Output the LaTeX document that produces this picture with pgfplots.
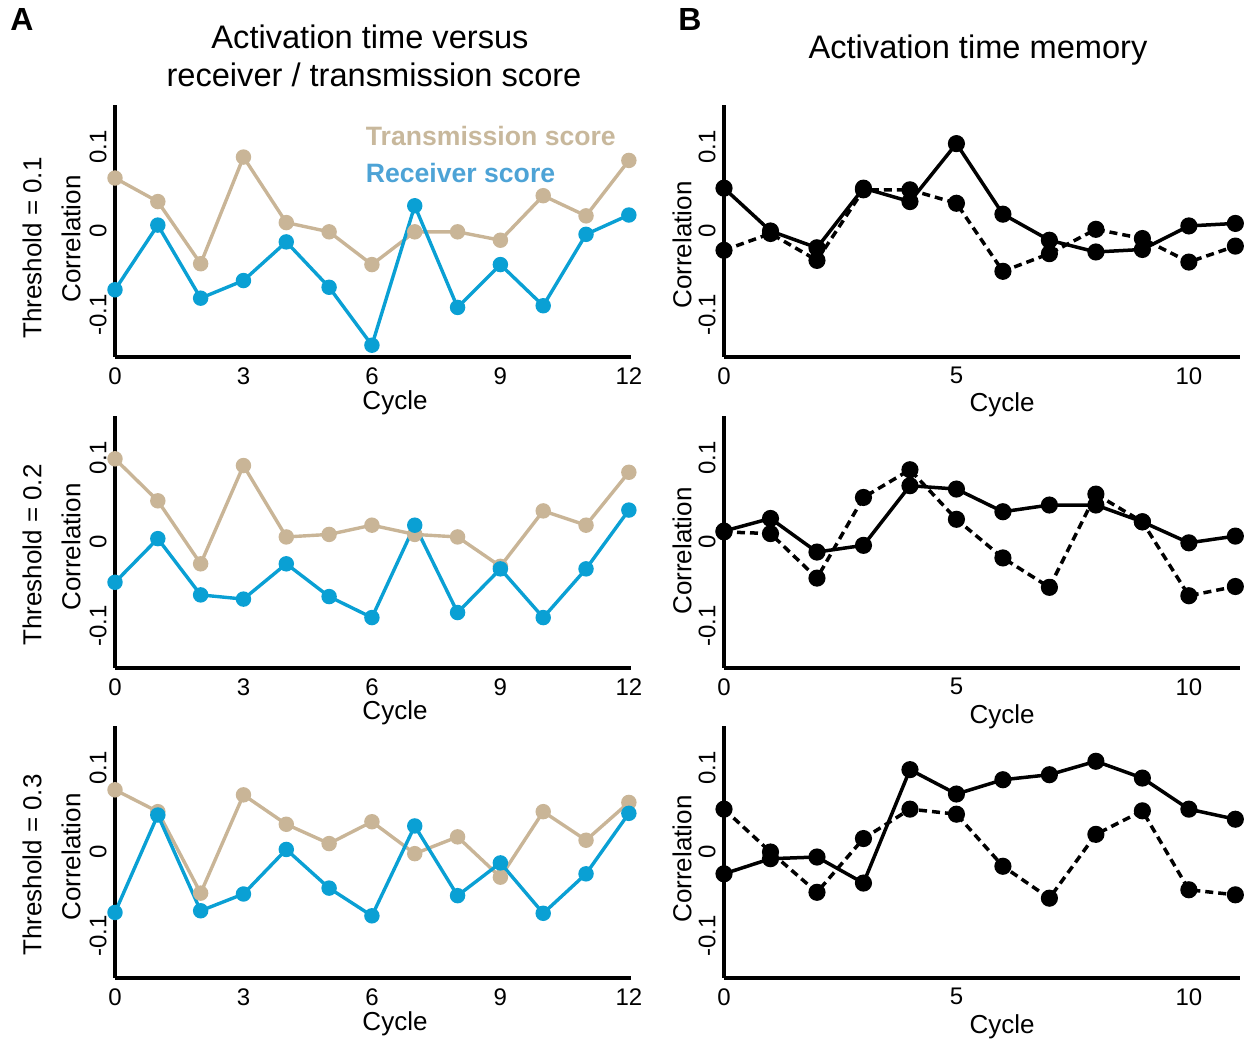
\documentclass[border=0pt]{standalone}
\usepackage{fontspec}
\setmainfont{Liberation Sans}
\usepackage{pgfplots}
\pgfplotsset{compat=1.18}
\definecolor{tanline}{RGB}{201,181,151}
\definecolor{blueline}{RGB}{10,160,212}
\definecolor{tantext}{RGB}{200,184,156}
\definecolor{bluetext}{RGB}{77,163,214}

\pgfplotsset{
  panel/.style={
    scale only axis, width=258pt, height=126pt,
    anchor=south west,
    axis x line=bottom, axis y line=left,
    axis line style={line width=2pt,-},
    ymin=-0.15, ymax=0.15,
    ytick={-0.1,0,0.1}, yticklabels={-0.1,0,0.1},
    major tick length=0pt,
    tick label style={font=\fontsize{12}{14}\selectfont},
    yticklabel style={rotate=90, anchor=south, inner sep=0pt},
    yticklabel shift=4pt,
    xticklabel style={anchor=north, inner sep=0pt},
    xticklabel shift=5pt,
    clip=false,
  },
  panelA/.style={panel, xmin=0, xmax=12.05,
    xtick={0,3,6,9,12}, xticklabels={0,3,6,9,12}},
  panelB/.style={panel, xmin=0, xmax=11.1,
    xtick={0,5,10}, xticklabels={0,5,10}},
  tanplot/.style={tanline, line width=1.7pt, mark=*, mark size=3pt},
  blueplot/.style={blueline, line width=1.7pt, mark=*, mark size=3pt},
  solidplot/.style={black, line width=1.75pt, mark=*, mark size=3.4pt},
  dashplot/.style={black, line width=1.75pt, dash pattern=on 4pt off 2.5pt,
    mark=*, mark size=3.4pt, mark options={solid}},
}

\begin{document}
\begin{tikzpicture}
\useasboundingbox (0,0) rectangle (624.5pt,521pt);

% ---- column A ----
\begin{axis}[panelA, at={(57.5pt,342.5pt)}]
\addplot[tanplot] coordinates {
 (0,0.063) (1,0.035) (2,-0.039) (3,0.088) (4,0.010) (5,-0.001) (6,-0.040)
 (7,-0.001) (8,-0.001) (9,-0.011) (10,0.042) (11,0.018) (12,0.084)};
\addplot[blueplot] coordinates {
 (0,-0.070) (1,0.007) (2,-0.080) (3,-0.059) (4,-0.013) (5,-0.067) (6,-0.136)
 (7,0.030) (8,-0.091) (9,-0.040) (10,-0.089) (11,-0.004) (12,0.019)};
\node[anchor=west, font=\fontsize{13.3}{15}\selectfont\bfseries, text=tantext, inner sep=0pt]
  at (axis cs:5.85,0.113) {Transmission score};
\node[anchor=west, font=\fontsize{13.3}{15}\selectfont\bfseries, text=bluetext, inner sep=0pt]
  at (axis cs:5.85,0.069) {Receiver score};
\end{axis}

\begin{axis}[panelA, at={(57.5pt,187pt)}]
\addplot[tanplot] coordinates {
 (0,0.099) (1,0.049) (2,-0.026) (3,0.091) (4,0.006) (5,0.009) (6,0.020)
 (7,0.009) (8,0.006) (9,-0.029) (10,0.037) (11,0.020) (12,0.083)};
\addplot[blueplot] coordinates {
 (0,-0.048) (1,0.004) (2,-0.063) (3,-0.068) (4,-0.026) (5,-0.065) (6,-0.090)
 (7,0.020) (8,-0.084) (9,-0.032) (10,-0.090) (11,-0.032) (12,0.038)};
\end{axis}

\begin{axis}[panelA, at={(57.5pt,32pt)}]
\addplot[tanplot] coordinates {
 (0,0.074) (1,0.048) (2,-0.049) (3,0.068) (4,0.033) (5,0.010) (6,0.036)
 (7,-0.002) (8,0.018) (9,-0.030) (10,0.048) (11,0.014) (12,0.059)};
\addplot[blueplot] coordinates {
 (0,-0.072) (1,0.044) (2,-0.070) (3,-0.050) (4,0.003) (5,-0.043) (6,-0.076)
 (7,0.031) (8,-0.052) (9,-0.013) (10,-0.073) (11,-0.026) (12,0.046)};
\end{axis}

% ---- column B ----
\begin{axis}[panelB, at={(362pt,342.5pt)}]
\addplot[solidplot] coordinates {
 (0,0.051) (1,0.000) (2,-0.020) (3,0.051) (4,0.035) (5,0.104)
 (6,0.020) (7,-0.011) (8,-0.025) (9,-0.022) (10,0.006) (11,0.009)};
\addplot[dashplot] coordinates {
 (0,-0.023) (1,-0.003) (2,-0.035) (3,0.049) (4,0.049) (5,0.033)
 (6,-0.048) (7,-0.027) (8,0.002) (9,-0.009) (10,-0.037) (11,-0.018)};
\end{axis}

\begin{axis}[panelB, at={(362pt,187pt)}]
\addplot[solidplot] coordinates {
 (0,0.013) (1,0.028) (2,-0.012) (3,-0.004) (4,0.067) (5,0.063)
 (6,0.036) (7,0.044) (8,0.044) (9,0.024) (10,-0.001) (11,0.007)};
\addplot[dashplot] coordinates {
 (0,0.012) (1,0.010) (2,-0.043) (3,0.053) (4,0.086) (5,0.027)
 (6,-0.019) (7,-0.054) (8,0.057) (9,0.024) (10,-0.064) (11,-0.053)};
\end{axis}

\begin{axis}[panelB, at={(362pt,32pt)}]
\addplot[solidplot] coordinates {
 (0,-0.026) (1,-0.008) (2,-0.006) (3,-0.037) (4,0.098) (5,0.069)
 (6,0.086) (7,0.092) (8,0.108) (9,0.088) (10,0.051) (11,0.039)};
\addplot[dashplot] coordinates {
 (0,0.051) (1,0.000) (2,-0.048) (3,0.016) (4,0.051) (5,0.045)
 (6,-0.017) (7,-0.055) (8,0.021) (9,0.049) (10,-0.045) (11,-0.051)};
\end{axis}

% ---- text placed in image pixel units ----
\begin{scope}[x=0.5pt, y=-0.5pt, shift={(0pt,521pt)}]
\tikzset{lab/.style={font=\fontsize{13}{15}\selectfont, inner sep=0pt}}
\node[font=\fontsize{16}{18}\selectfont\bfseries] at (22,20) {A};
\node[font=\fontsize{16}{18}\selectfont\bfseries] at (690,20) {B};
\node[font=\fontsize{16.3}{19}\selectfont] at (370,37) {Activation time versus};
\node[font=\fontsize{16.3}{19}\selectfont] at (374,75) {receiver / transmission score};
\node[font=\fontsize{16.3}{19}\selectfont] at (978,50) {Activation time memory};
\node[lab, rotate=90] at (32,248) {Threshold = 0.1};
\node[lab, rotate=90] at (32,555) {Threshold = 0.2};
\node[lab, rotate=90] at (32,865) {Threshold = 0.3};
\node[lab, rotate=90] at (71,239) {Correlation};
\node[lab, rotate=90] at (71,547) {Correlation};
\node[lab, rotate=90] at (71,857) {Correlation};
\node[lab, rotate=90] at (682,245) {Correlation};
\node[lab, rotate=90] at (682,551) {Correlation};
\node[lab, rotate=90] at (682,859) {Correlation};
\node[lab] at (395,403) {Cycle};
\node[lab] at (395,713) {Cycle};
\node[lab] at (395,1024) {Cycle};
\node[lab] at (1002,405) {Cycle};
\node[lab] at (1002,717) {Cycle};
\node[lab] at (1002,1027) {Cycle};
\end{scope}
\end{tikzpicture}
\end{document}
